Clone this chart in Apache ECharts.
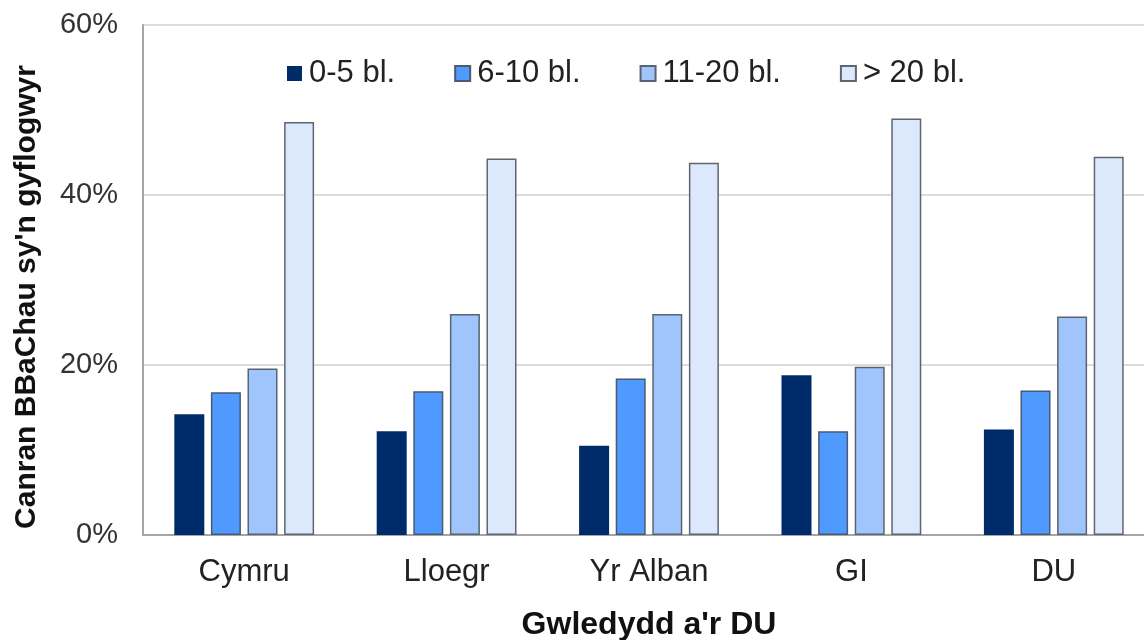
<!DOCTYPE html>
<html>
<head>
<meta charset="utf-8">
<script src="https://cdn.jsdelivr.net/npm/echarts@6/dist/echarts.min.js"></script>
<style>html,body{margin:0;padding:0;background:#fff}#c{width:1144px;height:640px}</style>
</head>
<body>
<div id="c"></div>
<script>
const categories = ['Cymru', 'Lloegr', 'Yr Alban', 'GI', 'DU'];
const seriesNames = ['0-5 bl.', '6-10 bl.', '11-20 bl.', '> 20 bl.'];
const s0to5 = [14.2, 12.2, 10.5, 18.8, 12.4];
const s6to10 = [16.8, 16.9, 18.4, 12.2, 17.0];
const s11to20 = [19.6, 26.0, 26.0, 19.8, 25.7];
const sOver20 = [48.6, 44.3, 43.8, 49.0, 44.5];
const yTicks = [0, 20, 40, 60];
const yTitle = "Canran BBaChau sy'n gyflogwyr";
const xTitle = "Gwledydd a'r DU";

const colors = ['#002b6b', '#4f9aff', '#a0c4fc', '#dce9fd'];
const borders = ['#002b6b', '#4a5a70', '#5a6470', '#5f6670'];
const font = "'Liberation Sans', Arial, sans-serif";
const allData = [s0to5, s6to10, s11to20, sOver20];

const chart = echarts.init(document.getElementById('c'), null, {renderer: 'canvas'});
chart.setOption({
  animation: false,
  backgroundColor: '#ffffff',
  textStyle: {fontFamily: font},
  grid: {left: 143, top: 25, right: -11, bottom: 105, containLabel: false, outerBoundsMode: 'none'},
  legend: {
    left: 287, top: 58, padding: 0,
    itemWidth: 15, itemHeight: 15, itemGap: 59,
    icon: 'rect',
    textStyle: {fontSize: 31, color: '#222', fontFamily: font, padding: [0, 0, 0, 2]},
    data: seriesNames
  },
  xAxis: {
    type: 'category',
    data: categories,
    axisLine: {lineStyle: {color: '#a6a6a6', width: 2}},
    axisTick: {show: false},
    axisLabel: {fontSize: 31, color: '#222', margin: 22, fontFamily: font},
    name: xTitle,
    nameLocation: 'middle',
    nameGap: 74,
    nameTextStyle: {fontSize: 32, fontWeight: 'bold', color: '#111', fontFamily: font}
  },
  yAxis: {
    type: 'value',
    min: yTicks[0], max: yTicks[yTicks.length - 1], interval: 20,
    axisLine: {show: true, lineStyle: {color: '#a6a6a6', width: 2}},
    axisTick: {show: false},
    splitLine: {lineStyle: {color: '#dcdcdc', width: 2}},
    axisLabel: {fontSize: 29, color: '#333', margin: 25, formatter: '{value}%', fontFamily: font},
    name: yTitle,
    nameLocation: 'middle',
    nameGap: 101,
    nameTextStyle: {fontSize: 30, fontWeight: 'bold', color: '#111', fontFamily: font, padding: [0, 34, 0, 0]}
  },
  series: seriesNames.map((n, i) => ({
    name: n,
    type: 'bar',
    data: allData[i],
    barWidth: 30,
    barGap: '22%',
    itemStyle: {color: colors[i], borderColor: borders[i], borderWidth: i === 0 ? 0 : 1.5}
  }))
});
</script>
</body>
</html>
